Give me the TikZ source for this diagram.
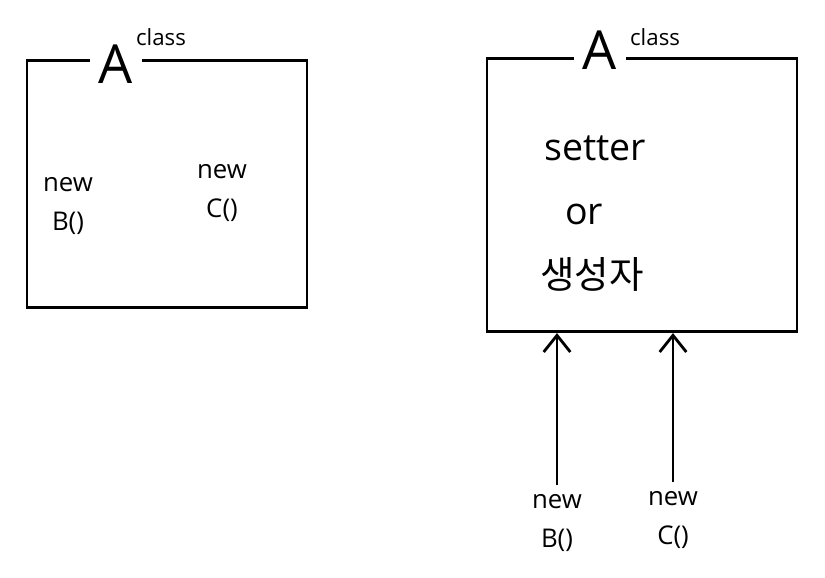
\documentclass[tikz,border=0pt]{standalone}
\usepackage{fontspec}
\setmainfont{Open Sans}
\newfontfamily\krfont{Noto Sans CJK KR}
\usetikzlibrary{arrows.meta, positioning}

\begin{document}
\begin{tikzpicture}[
  x=0.03cm, y=-0.03cm,
  classbox/.style={draw, line width=2.4pt, rectangle},
  title/.style={fill=white, inner xsep=8pt, inner ysep=0pt, font=\fontsize{46}{46}\selectfont},
  tag/.style={font=\fontsize{19}{19}\selectfont},
  label/.style={align=center, font=\fontsize{22}{34}\selectfont},
  body/.style={font=\fontsize{32}{34}\selectfont},
  arr/.style={-{Straight Barb[length=5mm, width=8mm]}, line width=2.4pt}
]
\useasboundingbox (0,0) rectangle (825,577);

% --- left: A makes its own parts ---
\node[classbox, minimum width=8.4cm, minimum height=7.4cm] (boxL) at (167,184) {};
\node[title] (titleL) at (116,64) {A};
\node[tag, anchor=south west] (classL) at (132,50) {class};
\node[label] (newBL) at (68,206) {new\\B()};
\node[label] (newCL) at (222,193) {new\\C()};

% --- right: parts come in from outside ---
\node[classbox, minimum width=9.3cm, minimum height=8.2cm] (boxR) at (642,195) {};
\node[title] (titleR) at (600,50) {A};
\node[tag, anchor=south west] (classR) at (626,50) {class};
\node[body] (setterR) at (595,148) {setter};
\node[body] (orR) at (584,214) {or};
\node[body] (ctorR) at (592,274) {\krfont 생성자};

% --- injected objects ---
\node[label] (newBR) at (557,523) {new\\B()};
\node[label] (newCR) at (673,520) {new\\C()};
\draw[arr, shorten <=4pt] (newBR.north) -- (newBR.north |- boxR.south);
\draw[arr, shorten <=4pt] (newCR.north) -- (newCR.north |- boxR.south);

\end{tikzpicture}
\end{document}
